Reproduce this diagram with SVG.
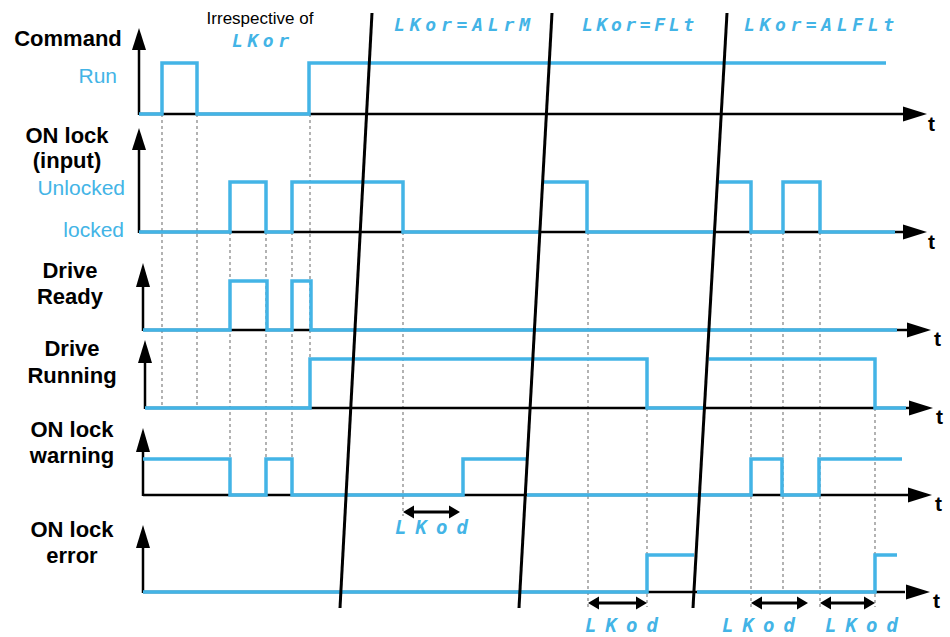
<svg xmlns="http://www.w3.org/2000/svg" width="950" height="637" viewBox="0 0 950 637">
<style>
.lbl{font-family:"Liberation Sans",Arial,sans-serif;font-weight:bold;font-size:22px;fill:#000;text-anchor:middle}
.lvl{font-family:"Liberation Sans",Arial,sans-serif;font-size:21px;fill:#43b4e6;text-anchor:end}
.t{font-family:"Liberation Sans",Arial,sans-serif;font-weight:bold;font-size:21px;fill:#000}
.seg{font-family:"DejaVu Sans Mono","Liberation Mono",monospace;font-style:italic;font-weight:bold;font-size:18px;fill:#43b4e6}
.ax{stroke:#000;stroke-width:2.5;fill:none}
.sig{stroke:#43b4e6;stroke-width:3.5;fill:none;stroke-linejoin:miter}
.dash{stroke:#8a8a8a;stroke-width:1.3;stroke-dasharray:3 3;fill:none}
.brk{stroke:#000;stroke-width:3;fill:none}
.ah{fill:#000}
</style>
<g id="guides">
<line class="dash" x1="162" y1="114" x2="162" y2="408"/>
<line class="dash" x1="197" y1="114" x2="197" y2="408"/>
<line class="dash" x1="230" y1="232" x2="230" y2="495"/>
<line class="dash" x1="266" y1="232" x2="266" y2="495"/>
<line class="dash" x1="292" y1="232" x2="292" y2="495"/>
<line class="dash" x1="310" y1="114" x2="310" y2="359"/>
<line class="dash" x1="403" y1="232" x2="403" y2="516"/>
<line class="dash" x1="588" y1="232" x2="588" y2="607"/>
<line class="dash" x1="647" y1="408" x2="647" y2="607"/>
<line class="dash" x1="751" y1="232" x2="751" y2="607"/>
<line class="dash" x1="783" y1="232" x2="783" y2="592"/>
<line class="dash" x1="820" y1="232" x2="820" y2="607"/>
<line class="dash" x1="875" y1="408" x2="875" y2="607"/>
</g>
<g id="row-command">
<text class="lbl" x="68" y="46">Command</text>
<text class="lvl" x="117" y="83">Run</text>
<line class="ax" x1="139" y1="115" x2="139" y2="48"/>
<polygon class="ah" points="139,28 132,50 146,50"/>
<line class="ax" x1="139" y1="114" x2="905" y2="114"/>
<polygon class="ah" points="927,114 903,106.5 903,121.5"/>
<text class="t" x="928" y="131">t</text>
<polyline class="sig" points="139,114 162,114 162,63 197,63 197,114 309,114 309,63 886,63"/>
</g>
<g id="row-onlock-input">
<text class="lbl" x="67" y="143">ON lock</text>
<text class="lbl" x="67" y="168">(input)</text>
<text class="lvl" x="125" y="195">Unlocked</text>
<text class="lvl" x="124" y="237">locked</text>
<line class="ax" x1="139" y1="233" x2="139" y2="148"/>
<polygon class="ah" points="139,128 132,150 146,150"/>
<line class="ax" x1="139" y1="232" x2="905" y2="232"/>
<polygon class="ah" points="927,232 903,224.5 903,239.5"/>
<text class="t" x="928" y="249">t</text>
<polyline class="sig" points="139,232 230,232 230,182 266,182 266,232 292,232 292,182 403,182 403,232 541,232"/>
<polyline class="sig" points="544,182 587,182 587,232 714,232"/>
<polyline class="sig" points="718,182 751,182 751,232 783,232 783,182 820,182 820,232 895,232"/>
</g>
<g id="row-drive-ready">
<text class="lbl" x="70" y="278">Drive</text>
<text class="lbl" x="70" y="304">Ready</text>
<line class="ax" x1="143" y1="331" x2="143" y2="285"/>
<polygon class="ah" points="143,263 136,287 150,287"/>
<line class="ax" x1="143" y1="330" x2="909" y2="330"/>
<polygon class="ah" points="931,330 907,322.5 907,337.5"/>
<text class="t" x="934" y="346">t</text>
<polyline class="sig" points="143,330 230,330 230,281 267,281 267,330 292,330 292,281 311,281 311,330 897,330"/>
</g>
<g id="row-drive-running">
<text class="lbl" x="72" y="356">Drive</text>
<text class="lbl" x="72" y="383">Running</text>
<line class="ax" x1="145" y1="409" x2="145" y2="361"/>
<polygon class="ah" points="145,340 138,363 152,363"/>
<line class="ax" x1="145" y1="408" x2="910" y2="408"/>
<polygon class="ah" points="933,408 909,400.5 909,415.5"/>
<text class="t" x="936" y="424">t</text>
<polyline class="sig" points="145,408 310,408 310,359 647,359 647,408 704,408"/>
<polyline class="sig" points="709,359 875,359 875,408 906,408"/>
</g>
<g id="row-onlock-warning">
<text class="lbl" x="72" y="437">ON lock</text>
<text class="lbl" x="72" y="463">warning</text>
<line class="ax" x1="143" y1="496" x2="143" y2="450"/>
<polygon class="ah" points="143,428 136,452 150,452"/>
<line class="ax" x1="143" y1="495" x2="909" y2="495"/>
<polygon class="ah" points="932,495 908,487.5 908,502.5"/>
<text class="t" x="935" y="511">t</text>
<polyline class="sig" points="143,459 230,459 230,495 266,495 266,459 292,459 292,495 463,495 463,459 526,459"/>
<polyline class="sig" points="527,495 751,495 751,459 782,459 782,495 819,495 819,459 902,459"/>
</g>
<g id="row-onlock-error">
<text class="lbl" x="72" y="537">ON lock</text>
<text class="lbl" x="72" y="563">error</text>
<line class="ax" x1="143" y1="593" x2="143" y2="546"/>
<polygon class="ah" points="143,525 136,548 150,548"/>
<line class="ax" x1="143" y1="592" x2="905" y2="592"/>
<polygon class="ah" points="930,592 906,584.5 906,599.5"/>
<text class="t" x="933" y="608">t</text>
<polyline class="sig" points="143,592 647,592 647,555 694,555"/>
<polyline class="sig" points="697,592 875,592 875,555 897,555"/>
</g>
<g id="breaks">
<line class="brk" x1="372" y1="13" x2="340" y2="608"/>
<line class="brk" x1="552" y1="13" x2="519" y2="608"/>
<line class="brk" x1="727" y1="13" x2="693" y2="608"/>
</g>
<g id="headers">
<text x="260" y="24" style="font-family:'Liberation Sans',Arial,sans-serif;font-size:17px;fill:#000;text-anchor:middle">Irrespective of</text>
<text class="seg" x="232" y="47" textLength="57" lengthAdjust="spacing">LKor</text>
<text class="seg" x="394" y="31" textLength="136" lengthAdjust="spacing">LKor=ALrM</text>
<text class="seg" x="582" y="31" textLength="112" lengthAdjust="spacing">LKor=FLt</text>
<text class="seg" x="744" y="31" textLength="150" lengthAdjust="spacing">LKor=ALFLt</text>
</g>
<g id="delays">
<line class="ax" x1="412" y1="512" x2="451" y2="512" style="stroke-width:3"/>
<polygon class="ah" points="403,512 414,505.5 414,518.5"/>
<polygon class="ah" points="460,512 449,505.5 449,518.5"/>
<text class="seg" x="395" y="534" textLength="73" lengthAdjust="spacing" style="font-size:19px">LKod</text>
<line class="ax" x1="597" y1="603" x2="638" y2="603" style="stroke-width:3"/>
<polygon class="ah" points="588,603 599,596.5 599,609.5"/>
<polygon class="ah" points="647,603 636,596.5 636,609.5"/>
<text class="seg" x="585" y="632" textLength="73" lengthAdjust="spacing" style="font-size:19px">LKod</text>
<line class="ax" x1="760" y1="603" x2="799" y2="603" style="stroke-width:3"/>
<polygon class="ah" points="751,603 762,596.5 762,609.5"/>
<polygon class="ah" points="808,603 797,596.5 797,609.5"/>
<text class="seg" x="722" y="632" textLength="73" lengthAdjust="spacing" style="font-size:19px">LKod</text>
<line class="ax" x1="829" y1="603" x2="866" y2="603" style="stroke-width:3"/>
<polygon class="ah" points="820,603 831,596.5 831,609.5"/>
<polygon class="ah" points="875,603 864,596.5 864,609.5"/>
<text class="seg" x="825" y="632" textLength="73" lengthAdjust="spacing" style="font-size:19px">LKod</text>
</g>
</svg>
